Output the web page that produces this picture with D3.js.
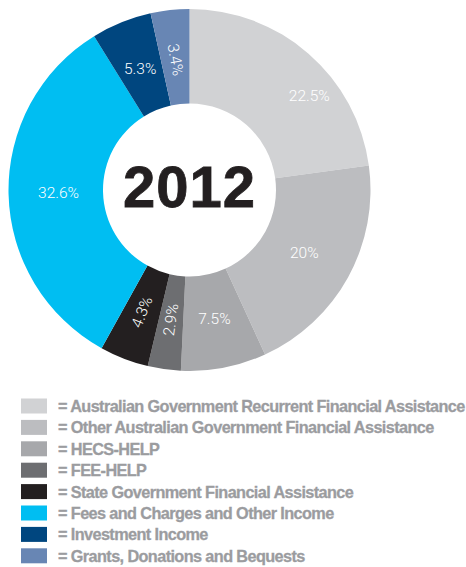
<!DOCTYPE html>
<html>
<head>
<meta charset="utf-8">
<script src="https://cdn.jsdelivr.net/npm/d3@7"></script>
<style>
  html, body { margin: 0; padding: 0; background: #ffffff; }
  svg { display: block; }
</style>
</head>
<body>
<svg id="chart" width="466" height="567"></svg>
<script>
// Income sources, 2012 (percent of total)
const categories = [
  "Australian Government Recurrent Financial Assistance",
  "Other Australian Government Financial Assistance",
  "HECS-HELP",
  "FEE-HELP",
  "State Government Financial Assistance",
  "Fees and Charges and Other Income",
  "Investment Income",
  "Grants, Donations and Bequests"
];
const shares = [22.5, 20, 7.5, 2.9, 4.3, 32.6, 5.3, 3.4];
const shareLabels = ["22.5%", "20%", "7.5%", "2.9%", "4.3%", "32.6%", "5.3%", "3.4%"];
const colors = ["#d1d2d4", "#bcbdc0", "#a7a8ab", "#6d6e71", "#231f20", "#00bef2", "#00467f", "#6886b4"];
// label rotation (deg) for the narrow wedges
const labelRotation = [0, 0, 0, -82, -68, 0, 0, 80];
const centerTitle = "2012";

const svg = d3.select("#chart");
const cx = 189.5, cy = 190, outerR = 181, innerR = 86.5;

const pie = d3.pie().sort(null).value(d => d);
const arcs = pie(shares);
const arc = d3.arc().innerRadius(innerR).outerRadius(outerR);
const labelArc = d3.arc().innerRadius(131).outerRadius(131);

const g = svg.append("g").attr("transform", `translate(${cx},${cy})`);

g.selectAll("path.slice")
  .data(arcs)
  .join("path")
  .attr("class", "slice")
  .attr("d", arc)
  .attr("fill", (d, i) => colors[i]);

g.selectAll("text.pct")
  .data(arcs)
  .join("text")
  .attr("class", "pct")
  .attr("transform", (d, i) => {
    if (i === 0) {
      // first label sits a little further round and out, clear of the title
      const mid = (d.startAngle + d.endAngle) / 2 + 0.19;
      const r = 152;
      return `translate(${r * Math.sin(mid)},${-r * Math.cos(mid)})`;
    }
    const [x, y] = labelArc.centroid(d);
    return `translate(${x},${y}) rotate(${labelRotation[i]})`;
  })
  .attr("text-anchor", "middle")
  .attr("dominant-baseline", "central")
  .attr("fill", "#ffffff")
  .attr("font-family", "Roboto, 'Liberation Sans', sans-serif")
  .attr("font-weight", 300)
  .attr("font-size", 15.5)
  .text((d, i) => shareLabels[i]);

g.append("text")
  .attr("x", 0)
  .attr("y", 17)
  .attr("text-anchor", "middle")
  .attr("fill", "#231f20")
  .attr("font-family", "'Liberation Sans', Arial, sans-serif")
  .attr("font-weight", 700)
  .attr("font-size", 58)
  .attr("letter-spacing", 1)
  .attr("stroke", "#231f20")
  .attr("stroke-width", 0.8)
  .text(centerTitle);

// legend
const legend = svg.append("g").attr("transform", "translate(21,406)");
const rowStep = 21.4;
const rows = legend.selectAll("g.row")
  .data(categories)
  .join("g")
  .attr("class", "row")
  .attr("transform", (d, i) => `translate(0,${i * rowStep})`);

rows.append("rect")
  .attr("x", 0)
  .attr("y", -7.5)
  .attr("width", 26)
  .attr("height", 15)
  .attr("fill", (d, i) => colors[i]);

const legendText = rows.append("text")
  .attr("x", 37)
  .attr("y", 0)
  .attr("dominant-baseline", "central")
  .attr("fill", "#9b9c9f")
  .attr("font-family", "'Liberation Sans', Arial, sans-serif")
  .attr("font-weight", 700)
  .attr("font-size", 15)
  .attr("letter-spacing", -0.6)
  .attr("stroke", "#9b9c9f")
  .attr("stroke-width", 0.3)
  .text(d => "= " + d);

// fit the longest entry to the available width
const longest = d3.max(legendText.nodes(), n => n.getComputedTextLength());
const target = 404;
const fs = 15 * target / longest;
legendText.attr("font-size", fs);
</script>
</body>
</html>
